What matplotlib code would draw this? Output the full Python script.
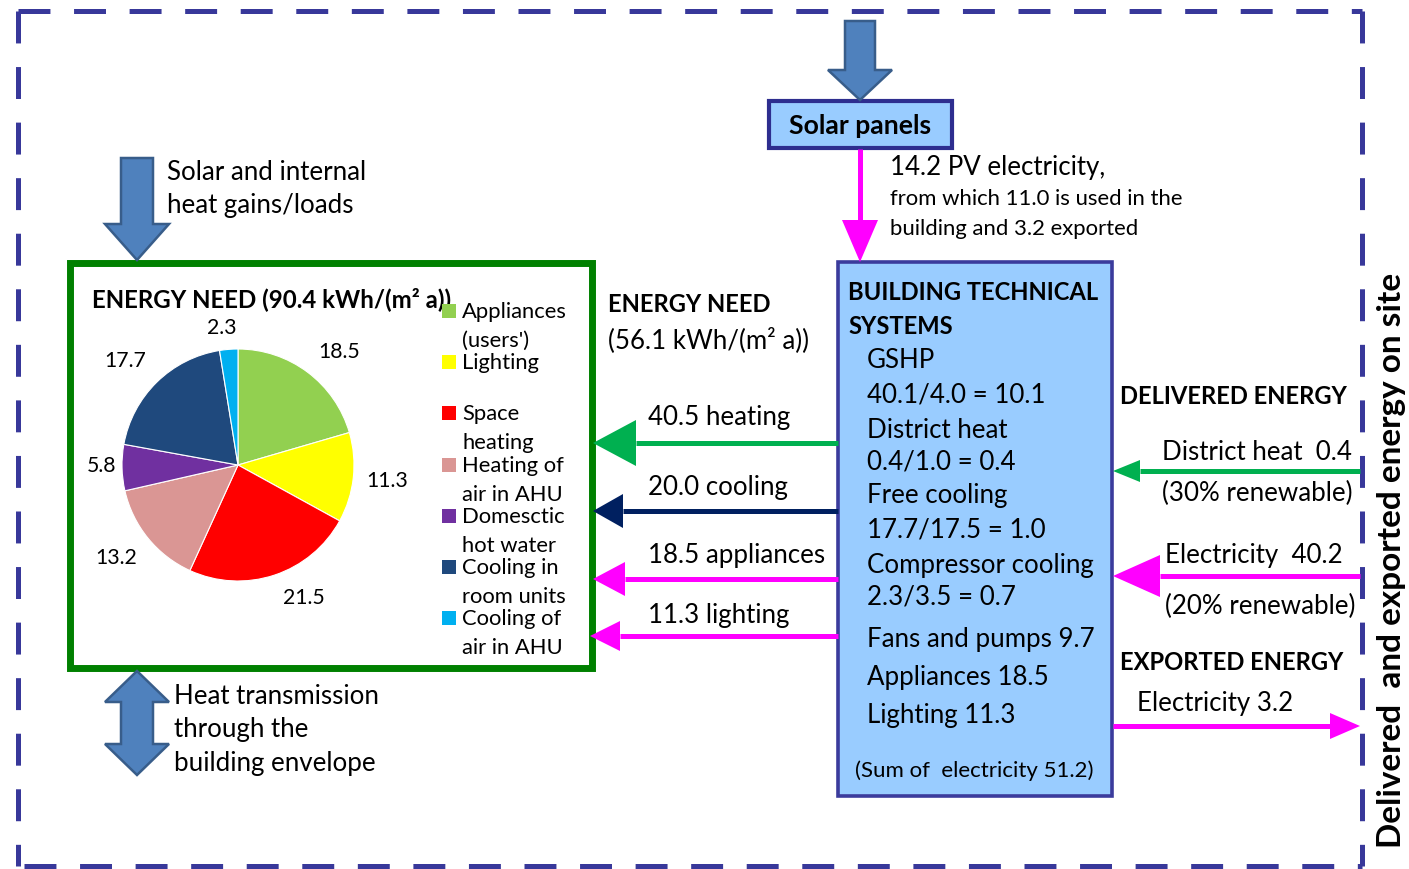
import matplotlib
matplotlib.use('Agg')
import matplotlib.pyplot as plt
from matplotlib.patches import Rectangle, Polygon
import numpy as np

plt.rcParams['font.family'] = ['Lato', 'DejaVu Sans']
plt.rcParams['lines.scale_dashes'] = False

# ---------------- data ----------------
pie_names = ["Appliances\n(users')", "Lighting", "Space\nheating", "Heating of\nair in AHU",
             "Domesctic\nhot water", "Cooling in\nroom units", "Cooling of\nair in AHU"]
pie_values = [18.5, 11.3, 21.5, 13.2, 5.8, 17.7, 2.3]
pie_colors = ['#92D050', '#FFFF00', '#FF0000', '#DA9694', '#7030A0', '#1F497D', '#00B0F0']
pie_title = "ENERGY NEED (90.4 kWh/(m² a))"

need_values = [40.5, 20.0, 18.5, 11.3]
need_names = ['heating', 'cooling', 'appliances', 'lighting']
need_colors = ['#00B050', '#002060', '#FF00FF', '#FF00FF']

bts_lines = ["GSHP", "40.1/4.0 = 10.1", "District heat", "0.4/1.0 = 0.4", "Free cooling",
             "17.7/17.5 = 1.0", "Compressor cooling", "2.3/3.5 = 0.7", "Fans and pumps 9.7",
             "Appliances 18.5", "Lighting 11.3"]
bts_sum = "(Sum of  electricity 51.2)"

pv_total = 14.2
pv_used = 11.0
pv_export = 3.2
dh_delivered = 0.4
el_delivered = 40.2

# ---------------- canvas ----------------
W, H = 1409, 869
fig = plt.figure(figsize=(W / 100, H / 100), dpi=100)
ax = fig.add_axes([0, 0, 1, 1])
ax.set_xlim(0, W)
ax.set_ylim(H, 0)
ax.axis('off')
renderer = fig.canvas.get_renderer()


def fit(s, width, weight='normal'):
    t = ax.text(0, 0, s, fontsize=20, fontweight=weight)
    w = t.get_window_extent(renderer).width
    t.remove()
    return 20 * width / w


S1 = np.mean([fit("Solar and internal", 201), fit("Compressor cooling", 225),
              fit("18.5 appliances", 176), fit("(30% renewable)", 192)])
S2 = np.mean([fit("from which 11.0 is used in the", 293), fit("building and 3.2 exported", 250)])
S3 = fit("Appliances", 105)
SP = fit("18.5", 42)
B1 = np.mean([fit("ENERGY NEED", 162, 'bold'), fit("BUILDING TECHNICAL", 251, 'bold'),
              fit("DELIVERED ENERGY", 228, 'bold'), fit("EXPORTED ENERGY", 224, 'bold')])
BT = fit(pie_title, 358, 'bold')
BS = fit("Solar panels", 142, 'bold')
SS = fit(bts_sum, 238)
BR = fit("Delivered  and exported energy on site", 576, 'bold')


def txt(x, y, s, size, weight='normal', **kw):
    ax.text(x, y, s, fontsize=size, fontweight=weight, va='center', ha=kw.pop('ha', 'left'),
            color='black', **kw)


def harrow(x_tail, x_tip, y, color, lw_px, head_len, head_half):
    d = np.sign(x_tip - x_tail)
    base = x_tip - d * head_len
    ax.plot([x_tail, base], [y, y], color=color, lw=lw_px * 0.72, solid_capstyle='butt', zorder=3)
    ax.add_patch(Polygon([[x_tip, y], [base, y - head_half], [base, y + head_half]],
                         closed=True, facecolor=color, edgecolor='none', zorder=3))


def block_arrow_down(cx, y0, y1, shaft_half, head_half, head_len):
    pts = [[cx - shaft_half, y0], [cx + shaft_half, y0], [cx + shaft_half, y1 - head_len],
           [cx + head_half, y1 - head_len], [cx, y1], [cx - head_half, y1 - head_len],
           [cx - shaft_half, y1 - head_len]]
    ax.add_patch(Polygon(pts, closed=True, facecolor='#4F81BD', edgecolor='#385D8A', lw=1.8, zorder=4))


def block_arrow_double(cx, y0, y1, shaft_half, head_half, head_len):
    pts = [[cx, y0], [cx + head_half, y0 + head_len], [cx + shaft_half, y0 + head_len],
           [cx + shaft_half, y1 - head_len], [cx + head_half, y1 - head_len], [cx, y1],
           [cx - head_half, y1 - head_len], [cx - shaft_half, y1 - head_len],
           [cx - shaft_half, y0 + head_len], [cx - head_half, y0 + head_len]]
    ax.add_patch(Polygon(pts, closed=True, facecolor='#4F81BD', edgecolor='#385D8A', lw=1.8, zorder=4))


# dashed site boundary
bcol = '#38389A'
for xs, ys in [([18, 1362], [11, 11]), ([18, 18], [11, 866]), ([1362, 1362], [11, 866]),
               ([24, 1362], [866, 866])]:
    ax.plot(xs, ys, color=bcol, lw=3.6, dashes=[23, 17], solid_capstyle='butt', zorder=2)

# green energy-need box
ax.add_patch(Rectangle((70, 263), 522, 405, facecolor='white', edgecolor='#008000', lw=5, zorder=2))

# building technical systems box
ax.add_patch(Rectangle((838, 262), 274, 534, facecolor='#99CCFF', edgecolor='#3B3B9C', lw=2.6, zorder=2))

# solar panels box
ax.add_patch(Rectangle((769, 101), 183, 47, facecolor='#99CCFF', edgecolor='#2E2E8F', lw=3, zorder=2))
txt(860, 126, "Solar panels", BS, 'bold', ha='center')

# blue block arrows
block_arrow_down(860, 21, 100, 15, 32, 30)
block_arrow_down(137, 158, 260, 16, 32, 36)
block_arrow_double(137, 671, 775, 16, 32, 31)

txt(167, 173, "Solar and internal", S1)
txt(167, 206, "heat gains/loads", S1)
txt(174, 696, "Heat transmission", S1)
txt(174, 730, "through the", S1)
txt(174, 763, "building envelope", S1)

# PV arrow + text
ax.plot([860, 860], [149, 221], color='#FF00FF', lw=3.6, solid_capstyle='butt', zorder=3)
ax.add_patch(Polygon([[860, 262], [842, 220], [878, 220]], closed=True, facecolor='#FF00FF',
                     edgecolor='none', zorder=3))
txt(890, 168, f"{pv_total:.1f} PV electricity,", S1)
txt(890, 199, f"from which {pv_used:.1f} is used in the", S2)
txt(890, 229, f"building and {pv_export:.1f} exported", S2)

# pie chart
r = 116
cx, cy = 238, 465
pax = fig.add_axes([(cx - r) / W, (H - cy - r) / H, 2 * r / W, 2 * r / H])
wedges, texts = pax.pie(pie_values, colors=pie_colors, startangle=90, counterclock=False,
                        labels=[f"{v:.1f}" for v in pie_values], labeldistance=1.28,
                        wedgeprops=dict(edgecolor='white', linewidth=0.8),
                        textprops=dict(fontsize=SP, color='black'))
# label placement (Excel "best fit" style): radial distance and angular nudge per label
label_r = [1.31, 1.29, 1.28, 1.32, 1.18, 1.32, 1.19]
label_dang = [-5, 0, 8, -2, -1, 3, 2]
for w, t, lr, da in zip(wedges, texts, label_r, label_dang):
    ang = np.deg2rad((w.theta1 + w.theta2) / 2 + da)
    t.set_position((lr * np.cos(ang), lr * np.sin(ang)))
    t.set_ha('center')
    t.set_va('center')
pax.set_xlim(-1, 1)
pax.set_ylim(-1, 1)
pax.set_aspect('equal')
pax.axis('off')

txt(92, 299, pie_title, BT, 'bold')

# legend
for i, (name, col) in enumerate(zip(pie_names, pie_colors)):
    y0 = 311 + i * 51.2
    ax.add_patch(Rectangle((442, y0 - 7), 14, 14, facecolor=col, edgecolor='none', zorder=5))
    for j, line in enumerate(name.split('\n')):
        txt(462, y0 + 1 + j * 29, line, S3, zorder=5)

# energy need arrows
txt(608, 305, "ENERGY NEED", B1, 'bold')
txt(608, 340, "(56.1 kWh/(m² a))", S1)
need_y = [443, 511, 579, 636]
need_lbl_y = [417, 488, 556, 616]
need_heads = [(43, 23, 593), (30, 17, 593), (32, 17, 593), (30, 15, 590)]
for v, n, c, y, ly, (hl, hh, tip) in zip(need_values, need_names, need_colors, need_y, need_lbl_y, need_heads):
    harrow(838, tip, y, c, 5, hl, hh)
    txt(648, ly, f"{v:.1f} {n}", S1)

# building technical systems text
txt(848, 292, "BUILDING TECHNICAL", B1, 'bold')
txt(848, 326, "SYSTEMS", B1, 'bold')
bts_y = [361, 395, 430, 462, 496, 530, 565, 597, 640, 678, 715]
for s, y in zip(bts_lines, bts_y):
    txt(867, y, s, S1)
txt(855, 771, bts_sum, SS)

# delivered / exported
txt(1120, 397, "DELIVERED ENERGY", B1, 'bold')
txt(1162, 453, f"District heat  {dh_delivered:.1f}", S1)
harrow(1360, 1113, 471, '#00B050', 5, 27, 11)
txt(1162, 493, "(30% renewable)", S1)
txt(1165, 556, f"Electricity  {el_delivered:.1f}", S1)
harrow(1360, 1113, 576, '#FF00FF', 5, 47, 21)
txt(1165, 606, "(20% renewable)", S1)
txt(1120, 662, "EXPORTED ENERGY", B1, 'bold')
txt(1137, 704, f"Electricity {pv_export:.1f}", S1)
harrow(1113, 1360, 726, '#FF00FF', 5, 30, 13)

ax.text(1392, 560, "Delivered  and exported energy on site", fontsize=BR, fontweight='bold',
        rotation=90, ha='center', va='center', color='black')

fig.savefig('out.png', dpi=100)
